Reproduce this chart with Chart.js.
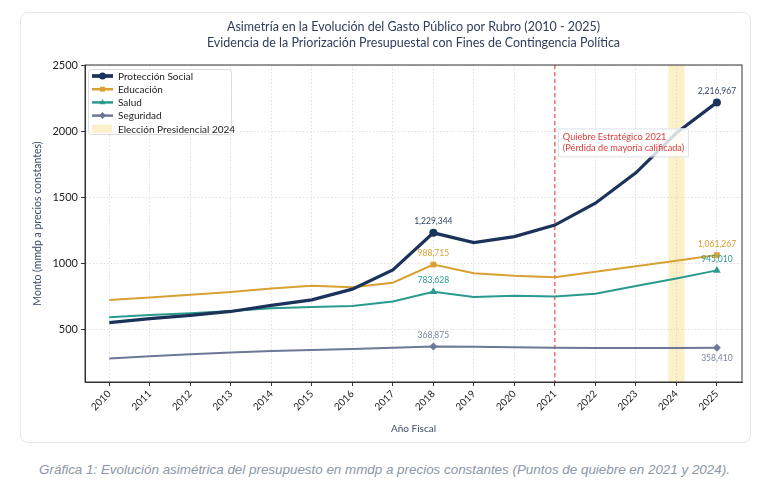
<!DOCTYPE html>
<html>
<head>
<meta charset="utf-8">
<script src="https://cdn.jsdelivr.net/npm/chart.js@4.4.0/dist/chart.umd.min.js"></script>
<style>
    body { margin: 0; background: #fff; width: 769px; height: 485px; overflow: hidden; font-family: Lato, sans-serif; }
    #card { position: absolute; left: 20px; top: 12px; width: 729px; height: 429px; border: 1px solid #e4e8ee; border-radius: 8px; }
    #chart { position: absolute; left: 0; top: 0; }
    #caption { position: absolute; left: 0; top: 462px; width: 769px; text-align: center;
        font-family: "Liberation Sans", Arial, sans-serif; font-style: italic; font-size: 13.4px; color: #8c96a8; }
</style>
</head>
<body>
<div id="card"><canvas id="chart" width="729" height="429"></canvas></div>
<div id="caption">Gráfica 1: Evolución asimétrica del presupuesto en mmdp a precios constantes (Puntos de quiebre en 2021 y 2024).</div>
<script>
// Monto en mmdp a precios constantes
const years = [2010, 2011, 2012, 2013, 2014, 2015, 2016, 2017, 2018, 2019, 2020, 2021, 2022, 2023, 2024, 2025];
const proteccionSocial = [550, 580, 605, 634, 680, 722, 803, 949, 1229.344, 1156, 1201, 1288, 1454, 1684, 1985, 2216.967];
const educacion = [720, 740, 760, 781, 808, 828, 818, 852, 988.715, 924, 904, 894, 935, 976, 1018, 1061.267];
const salud = [591, 607, 620, 637, 658, 667, 675, 710, 783.628, 743, 753, 747, 768, 826, 884, 945.010];
const seguridad = [278, 295, 310, 323, 335, 343, 350, 360, 368.875, 366, 363, 360, 357, 357, 357, 358.410];
const labeledYears = [2018, 2025];
const yTicks = [500, 1000, 1500, 2000, 2500];
const quiebreYear = 2021;
const eleccionYear = 2024;

const FONT = 'Lato';

function pts(values) {
    return years.map((y, i) => ({ x: y, y: values[i] }));
}
function fmt(v) {
    return String(Math.round(v * 1000)).replace(/\B(?=(\d{3})+(?!\d))/g, ',');
}
function markRadius(r) {
    return ctx => labeledYears.includes(years[ctx.dataIndex]) ? r : 0;
}

const series = [
    { label: 'Protección Social', values: proteccionSocial, color: '#1b3358', text: '#34486a', width: 3.2, style: 'circle', r: 4 },
    { label: 'Educación', values: educacion, color: '#d9a033', text: '#d9a033', width: 2, style: 'rect', r: 4 },
    { label: 'Salud', values: salud, color: '#2a9a8f', text: '#2a9a8f', width: 2, style: 'triangle', r: 4.5 },
    { label: 'Seguridad', values: seguridad, color: '#6b7896', text: '#7a869e', width: 2, style: 'rectRot', r: 4 }
];

const annotations = {
    id: 'annotations',
    beforeDatasetsDraw(chart) {
        const { ctx, chartArea: a, scales: { x } } = chart;
        ctx.save();
        ctx.fillStyle = 'rgba(240, 200, 60, 0.27)';
        const x0 = x.getPixelForValue(eleccionYear - 0.2);
        const x1 = x.getPixelForValue(eleccionYear + 0.2);
        ctx.fillRect(x0, a.top, x1 - x0, a.bottom - a.top);
        const xq = x.getPixelForValue(quiebreYear);
        ctx.strokeStyle = '#e8504a';
        ctx.lineWidth = 1.2;
        ctx.setLineDash([4, 3]);
        ctx.beginPath();
        ctx.moveTo(xq, a.top);
        ctx.lineTo(xq, a.bottom);
        ctx.stroke();
        ctx.restore();
    },
    afterDatasetsDraw(chart) {
        const { ctx, chartArea: a, scales: { x, y } } = chart;
        ctx.save();

        // etiquetas de valores
        ctx.font = '8.5px ' + FONT;
        ctx.textAlign = 'center';
        chart.data.datasets.forEach((ds, di) => {
            const meta = chart.getDatasetMeta(di);
            ds.data.forEach((p, i) => {
                if (!labeledYears.includes(p.x)) return;
                const el = meta.data[i];
                const below = di === 3 && i === ds.data.length - 1;
                ctx.fillStyle = series[di].text;
                ctx.textBaseline = below ? 'top' : 'bottom';
                ctx.fillText(fmt(p.y), el.x, below ? el.y + 6 : el.y - 7);
            });
        });

        // caja del quiebre 2021
        const bx = x.getPixelForValue(quiebreYear) + 3;
        const by = y.getPixelForValue(2020);
        ctx.fillStyle = 'rgba(255,255,255,0.82)';
        ctx.strokeStyle = '#dde3ec';
        ctx.lineWidth = 1;
        ctx.fillRect(bx, by, 130, 28);
        ctx.strokeRect(bx + 0.5, by + 0.5, 130, 28);
        ctx.fillStyle = '#d6403c';
        ctx.font = '9.2px ' + FONT;
        ctx.textAlign = 'left';
        ctx.textBaseline = 'middle';
        ctx.fillText('Quiebre Estratégico 2021', bx + 5, by + 8.5);
        ctx.fillText('(Pérdida de mayoría calificada)', bx + 5, by + 19.5);

        // leyenda
        const lx = a.left + 3, ly = a.top + 4;
        ctx.fillStyle = 'rgba(255,255,255,0.9)';
        ctx.strokeStyle = '#dcdcdc';
        ctx.beginPath();
        ctx.roundRect(lx + 0.5, ly + 0.5, 143, 65, 3);
        ctx.fill();
        ctx.stroke();
        ctx.font = '10px ' + FONT;
        series.forEach((s, i) => {
            const cy = ly + 7 + i * 13.2;
            ctx.strokeStyle = s.color;
            ctx.lineWidth = s.width + 0.5;
            ctx.beginPath();
            ctx.moveTo(lx + 4, cy);
            ctx.lineTo(lx + 25, cy);
            ctx.stroke();
            ctx.fillStyle = s.color;
            Chart.helpers.drawPoint(ctx, { pointStyle: s.style, radius: 3.5, borderWidth: 0 }, lx + 14.5, cy);
            ctx.fillStyle = '#222';
            ctx.fillText(s.label, lx + 30, cy + 0.5);
        });
        const cy = ly + 7 + 4 * 13.2;
        ctx.fillStyle = 'rgba(240, 200, 60, 0.27)';
        ctx.fillRect(lx + 4, cy - 4, 20, 8);
        ctx.fillStyle = '#222';
        ctx.fillText('Elección Presidencial 2024', lx + 30, cy + 0.5);

        // marco superior y derecho
        ctx.strokeStyle = '#333';
        ctx.lineWidth = 1;
        ctx.strokeRect(a.left, a.top, a.right - a.left, a.bottom - a.top);
        ctx.restore();
    }
};

new Chart(document.getElementById('chart'), {
    type: 'line',
    data: {
        datasets: series.map(s => ({
            label: s.label,
            data: pts(s.values),
            borderColor: s.color,
            backgroundColor: s.color,
            borderWidth: s.width,
            pointStyle: s.style,
            pointRadius: markRadius(s.r),
            pointBorderWidth: 0,
            tension: 0
        }))
    },
    options: {
        responsive: false,
        animation: false,
        layout: { padding: { left: 0, right: 8, top: 0, bottom: 0 } },
        plugins: {
            legend: { display: false },
            tooltip: { enabled: false },
            title: {
                display: true,
                fullSize: false,
                text: ['Asimetría en la Evolución del Gasto Público por Rubro (2010 - 2025)',
                       'Evidencia de la Priorización Presupuestal con Fines de Contingencia Política'],
                color: '#2e3e5c',
                font: { family: FONT, size: 12.5, weight: 'normal', lineHeight: 1.3 },
                padding: { top: 6, bottom: 13.5 }
            }
        },
        scales: {
            x: {
                type: 'linear',
                min: years[0] - 0.6,
                max: years[years.length - 1] + 0.62,
                afterFit: scale => { scale.height = 60; },
                border: { display: true, color: '#333', width: 1, dash: [1.5, 2] },
                grid: { color: '#e0e0e0', tickLength: 4, tickColor: '#333', tickBorderDash: [] },
                ticks: {
                    stepSize: 1, includeBounds: false, autoSkip: false, maxTicksLimit: 30,
                    minRotation: 45, maxRotation: 45, padding: 2,
                    color: '#222', font: { family: FONT, size: 10 },
                    callback: v => String(v)
                },
                title: { display: true, text: 'Año Fiscal', color: '#3d4a66', font: { family: FONT, size: 10 }, padding: { bottom: 7 } }
            },
            y: {
                min: 100,
                max: yTicks[yTicks.length - 1],
                afterFit: scale => { scale.width = 64; },
                afterBuildTicks: scale => { scale.ticks = yTicks.map(v => ({ value: v })); },
                border: { display: true, color: '#333', width: 1, dash: [1.5, 2] },
                grid: { color: '#e0e0e0', tickLength: 4, tickColor: '#333', tickBorderDash: [] },
                ticks: { color: '#222', font: { family: FONT, size: 11 }, padding: 3, callback: v => String(v) },
                title: { display: true, text: 'Monto (mmdp a precios constantes)', color: '#3d4a66', font: { family: FONT, size: 10.5 }, padding: { top: 10 } }
            }
        }
    },
    plugins: [annotations]
});
</script>
</body>
</html>
